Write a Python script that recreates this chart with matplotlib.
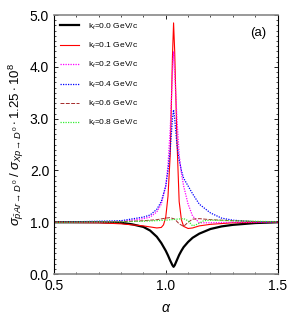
import matplotlib
matplotlib.use("Agg")
import matplotlib.pyplot as plt
from matplotlib.ticker import MultipleLocator

plt.rcParams["font.family"] = ["Liberation Sans", "DejaVu Sans"]
plt.rcParams["mathtext.fontset"] = "custom"
plt.rcParams["mathtext.rm"] = "Liberation Sans"
plt.rcParams["mathtext.it"] = "Liberation Sans:italic"
plt.rcParams["mathtext.sf"] = "Liberation Sans"

# values
a_k00 = [0.5, 0.7, 0.8, 0.85, 0.9, 0.93, 0.96, 0.98, 1.0, 1.01, 1.02, 1.03, 1.035,
         1.04, 1.05, 1.06, 1.07, 1.08, 1.1, 1.12, 1.15, 1.2, 1.25, 1.3, 1.4, 1.5]
k00 = [1.0, 1.0, 0.99, 0.96, 0.91, 0.84, 0.72, 0.6, 0.45, 0.36, 0.26, 0.17, 0.14,
       0.17, 0.27, 0.37, 0.45, 0.52, 0.62, 0.7, 0.78, 0.87, 0.92, 0.95, 0.985, 1.0]

a_k01 = [0.5, 0.7, 0.8, 0.85, 0.9, 0.93, 0.96, 0.98, 0.99, 1.0, 1.01, 1.02, 1.03, 1.035,
         1.04, 1.05, 1.06, 1.07, 1.08, 1.1, 1.12, 1.15, 1.2, 1.3, 1.5]
k01 = [1.0, 0.99, 0.97, 0.95, 0.93, 0.91, 0.89, 0.9, 0.95, 1.1, 1.5, 2.3, 4.2, 4.85,
       4.3, 2.6, 1.4, 1.05, 0.92, 0.88, 0.89, 0.93, 0.96, 0.99, 1.0]

a_k02 = [0.5, 0.7, 0.8, 0.85, 0.9, 0.93, 0.96, 0.98, 1.0, 1.01, 1.02, 1.03, 1.035,
         1.04, 1.05, 1.06, 1.07, 1.08, 1.1, 1.12, 1.15, 1.2, 1.3, 1.5]
k02 = [1.0, 1.0, 1.02, 1.04, 1.07, 1.1, 1.2, 1.35, 1.7, 2.1, 2.8, 3.9, 4.3,
       3.9, 3.0, 2.3, 1.95, 1.7, 1.35, 1.12, 0.99, 0.99, 1.0, 1.0]

a_k04 = [0.5, 0.8, 0.9, 0.93, 0.96, 0.98, 1.0, 1.01, 1.02, 1.03, 1.035, 1.04, 1.05,
         1.06, 1.07, 1.08, 1.1, 1.12, 1.15, 1.2, 1.25, 1.3, 1.4, 1.5]
k04 = [1.0, 1.03, 1.1, 1.14, 1.25, 1.4, 1.7, 2.0, 2.4, 3.0, 3.17, 3.0, 2.5,
       2.2, 2.0, 1.85, 1.7, 1.55, 1.35, 1.18, 1.08, 1.04, 1.01, 1.0]

a_k06 = [0.5, 0.8, 0.9, 0.96, 1.0, 1.02, 1.04, 1.06, 1.08, 1.1, 1.12, 1.15, 1.2, 1.3, 1.5]
k06 = [1.0, 1.01, 1.03, 1.05, 1.08, 1.09, 1.06, 0.97, 0.92, 1.0, 1.06, 1.07, 1.05, 1.03, 1.0]

a_k08 = [0.5, 0.8, 0.9, 1.0, 1.05, 1.08, 1.1, 1.12, 1.14, 1.17, 1.2, 1.3, 1.5]
k08 = [1.0, 1.01, 1.02, 1.04, 1.06, 1.07, 1.03, 0.93, 0.96, 1.03, 1.04, 1.03, 1.01]

fig = plt.figure(figsize=(3.0, 3.15), dpi=100)
ax = fig.add_axes([0.18, 0.13, 0.745, 0.822])

ax.plot(a_k00, k00, color="black", lw=1.6, label=r"k$_t$=0.0 GeV/c")
ax.plot(a_k01, k01, color="red", lw=0.8, label=r"k$_t$=0.1 GeV/c")
ax.plot(a_k02, k02, color="magenta", lw=0.9, ls=(0, (1, 1)), label=r"k$_t$=0.2 GeV/c")
ax.plot(a_k04, k04, color="blue", lw=0.9, ls=(0, (1, 1)), label=r"k$_t$=0.4 GeV/c")
ax.plot(a_k06, k06, color="#a52a2a", lw=0.7, ls=(0, (4, 1.5)), label=r"k$_t$=0.6 GeV/c")
ax.plot(a_k08, k08, color="#33ee33", lw=0.9, ls=(0, (1, 1)), label=r"k$_t$=0.8 GeV/c")

ax.set_xlim(0.5, 1.5)
ax.set_ylim(0.0, 5.0)
ax.xaxis.set_major_locator(MultipleLocator(0.5))
ax.xaxis.set_minor_locator(MultipleLocator(0.1))
ax.yaxis.set_major_locator(MultipleLocator(1.0))
ax.yaxis.set_minor_locator(MultipleLocator(0.1))
ax.xaxis.set_major_formatter(plt.FormatStrFormatter("%.1f"))
ax.yaxis.set_major_formatter(plt.FormatStrFormatter("%.1f"))
ax.tick_params(which="both", direction="in", top=True, right=True, labelsize=10)
ax.tick_params(which="major", length=3, width=0.6)
ax.tick_params(which="minor", length=1.5, width=0.5)
for s in ["top", "bottom"]:
    ax.spines[s].set_color("#888888")
    ax.spines[s].set_linewidth(1.2)
for s in ["left", "right"]:
    ax.spines[s].set_linewidth(0.8)

ax.set_xlabel(r"$\alpha$", fontsize=10, labelpad=6)
ax.set_ylabel(r"$\sigma_{\bar{p}Ar\rightarrow D^0}\;/\;\sigma_{Xp\rightarrow D^0}\cdot1.25\cdot10^8$",
              fontsize=9.5, labelpad=3)
ax.text(0.95, 0.93, "(a)", transform=ax.transAxes, ha="right", va="center", fontsize=9.5)

ax.legend(loc="upper left", frameon=False, fontsize=6, handlelength=2.3,
          handletextpad=1.0, labelspacing=1.1, borderaxespad=0.35)

fig.savefig("out.png", dpi=100)
